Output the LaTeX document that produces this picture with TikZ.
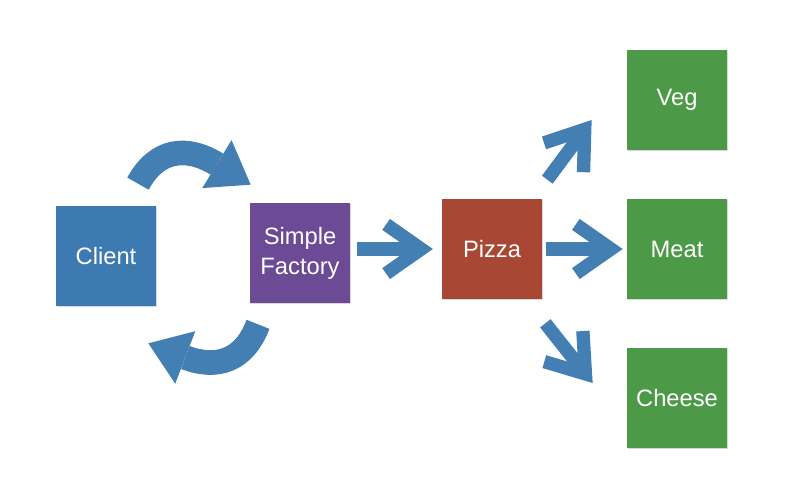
\documentclass[tikz,border=0pt]{standalone}
\usepackage{fontspec}
\setmainfont{Liberation Sans}
\usetikzlibrary{arrows.meta,shadows}
\definecolor{clientblue}{RGB}{62,122,178}
\definecolor{arrowblue}{RGB}{68,127,180}
\definecolor{factorypurple}{RGB}{108,74,150}
\definecolor{pizzared}{RGB}{168,72,52}
\definecolor{kindgreen}{RGB}{76,153,71}

\begin{document}
\begin{tikzpicture}[x=0.02cm,y=-0.02cm,
  box/.style={minimum size=2cm,inner sep=0pt,text=white,align=center,
    font=\fontsize{13.5}{17}\selectfont,
    drop shadow={shadow xshift=0.6pt,shadow yshift=-0.8pt,opacity=0.3}},
  fat/.style={arrowblue,line width=7.6pt,-{Straight Barb[sharp,length=20pt,width=28pt]}},
  swing/.style={arrowblue,line width=14pt,-{Triangle[length=22.5pt,width=32pt,line width=0pt]}}]
\useasboundingbox (0,0) rectangle (811,493);
% boxes
\node[box,fill=clientblue] (client) at (106,256) {Client};
\node[box,fill=factorypurple] (factory) at (300,253) {Simple\\Factory};
\node[box,fill=pizzared] (pizza) at (492,249) {Pizza};
\node[box,fill=kindgreen] (veg) at (677,100) {Veg};
\node[box,fill=kindgreen] (meat) at (677,249) {Meat};
\node[box,fill=kindgreen] (cheese) at (677,398) {Cheese};
% round trip
\draw[swing] ([shift={(32,-22)}]client.north) .. controls +(19,-35) and +(-64,-39) .. ([shift={(1,-18)}]factory.north west);
\draw[swing] ([shift={(-42,21)}]factory.south) .. controls +(-14,37) and +(68,26) .. ([shift={(-8,37)}]client.south east);
% straight arrows
\draw[fat,shorten <=4pt,shorten >=5pt] (factory.east |- pizza.west) -- (pizza.west);
\draw[fat,shorten <=2.3pt,shorten >=2.3pt] (pizza.east) -- (meat.west);
\draw[fat] ([shift={(5,-19)}]pizza.north east) -- ([shift={(-35,20)}]veg.west);
\draw[fat] ([shift={(3,24)}]pizza.south east) -- ([shift={(-34,-15)}]cheese.west);
\end{tikzpicture}
\end{document}
